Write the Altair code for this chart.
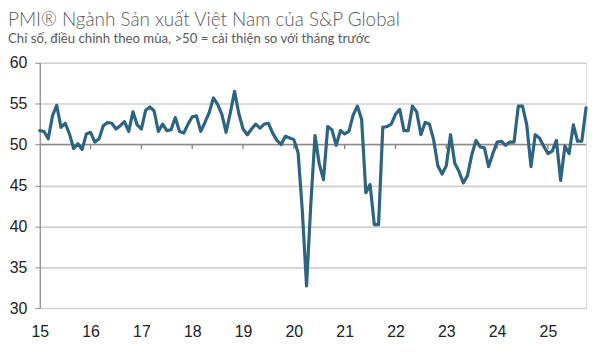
import altair as alt
import pandas as pd

# Monthly PMI values, Jan 2015 .. Oct 2025
pmi_2015 = [51.7, 51.6, 50.7, 53.5, 54.8, 52.1, 52.6, 51.3, 49.5, 50.1, 49.4, 51.3]
pmi_2016 = [51.5, 50.3, 50.7, 52.3, 52.7, 52.6, 51.9, 52.3, 52.8, 51.6, 54.0, 52.4]
pmi_2017 = [51.9, 54.2, 54.6, 54.1, 51.6, 52.5, 51.7, 51.8, 53.3, 51.6, 51.4, 52.5]
pmi_2018 = [53.4, 53.5, 51.6, 52.7, 53.9, 55.7, 54.9, 53.7, 51.5, 53.9, 56.5, 53.8]
pmi_2019 = [51.9, 51.2, 51.9, 52.5, 52.0, 52.5, 52.6, 51.4, 50.5, 50.0, 51.0, 50.8]
pmi_2020 = [50.6, 49.0, 41.9, 32.7, 42.7, 51.1, 47.6, 45.7, 52.2, 51.8, 49.9, 51.7]
pmi_2021 = [51.3, 51.6, 53.6, 54.7, 53.1, 44.1, 45.1, 40.2, 40.2, 52.1, 52.2, 52.5]
pmi_2022 = [53.7, 54.3, 51.7, 51.7, 54.7, 54.0, 51.2, 52.7, 52.5, 50.6, 47.4, 46.4]
pmi_2023 = [47.4, 51.2, 47.7, 46.7, 45.3, 46.2, 48.7, 50.5, 49.7, 49.6, 47.3, 48.9]
pmi_2024 = [50.3, 50.4, 49.9, 50.3, 50.3, 54.7, 54.7, 52.4, 47.3, 51.2, 50.8, 49.8]
pmi_2025 = [48.9, 49.2, 50.5, 45.6, 49.8, 48.9, 52.4, 50.4, 50.4, 54.5]

years = list(range(2015, 2026))
y_ticks = [30, 35, 40, 45, 50, 55, 60]
title_text = "PMI® Ngành Sản xuất Việt Nam của S&P Global"
subtitle_text = "Chỉ số, điều chỉnh theo mùa, >50 = cải thiện so với tháng trước"

series = [pmi_2015, pmi_2016, pmi_2017, pmi_2018, pmi_2019, pmi_2020,
          pmi_2021, pmi_2022, pmi_2023, pmi_2024, pmi_2025]
rows = []
for yr, vals in zip(years, series):
    for m, v in enumerate(vals):
        rows.append({"t": yr + m / 12.0, "pmi": v})
df = pd.DataFrame(rows)
ticks_df = pd.DataFrame({"t": years[1:]})

x_scale = alt.Scale(domain=[2015, 2025 + 9 / 12.0], nice=False, zero=False)
y_scale = alt.Scale(domain=[30, 60], nice=False, zero=False)

line = alt.Chart(df).mark_line(
    color="#2d6482", strokeWidth=3.2, strokeJoin="round", strokeCap="round"
).encode(
    x=alt.X("t:Q", scale=x_scale,
            axis=alt.Axis(values=years, format="d",
                          labelExpr="substring(datum.label, 2, 4)",
                          title=None, domain=False, ticks=False, grid=False,
                          labelFlush=False, labelOverlap=False,
                          labelFontSize=16, labelFont="Liberation Sans",
                          labelColor="#222222", labelPadding=16)),
    y=alt.Y("pmi:Q", scale=y_scale,
            axis=alt.Axis(values=y_ticks, title=None, domain=True,
                          domainColor="#8c8c8c", domainWidth=1.2,
                          ticks=True, tickSize=5, tickColor="#8c8c8c",
                          grid=True, gridColor="#d0d0d0", gridWidth=1.6,
                          labelFlush=False,
                          labelFontSize=16, labelFont="Liberation Sans",
                          labelColor="#222222", labelPadding=8)),
)

fifty = alt.Chart(pd.DataFrame({"v": [50]})).mark_rule(
    color="#8a8a8a", strokeWidth=1.6
).encode(y=alt.Y("v:Q", scale=y_scale))

year_ticks = alt.Chart(ticks_df).mark_rule(color="#8a8a8a", strokeWidth=1.4).encode(
    x=alt.X("t:Q", scale=x_scale),
    y=alt.datum(50),
    y2=alt.datum(49.45),
)

chart = alt.layer(fifty, year_ticks, line).properties(
    width=550,
    height=247,
    padding={"left": 32, "top": 54, "right": 6, "bottom": 30},
    autosize=alt.AutoSizeParams(type="none"),
    title=alt.TitleParams(
        text=title_text, subtitle=subtitle_text, anchor="start", frame="group",
        dx=-32, font="Lato", fontSize=19, fontWeight=300, color="#5a5a5a",
        subtitleFont="Lato", subtitleFontSize=13.3, subtitleColor="#5a5a5a",
        subtitlePadding=2, offset=10,
    ),
).configure_view(stroke=None).configure(background="white")

chart.save("out.html", embed_options={"renderer": "svg", "actions": False})
